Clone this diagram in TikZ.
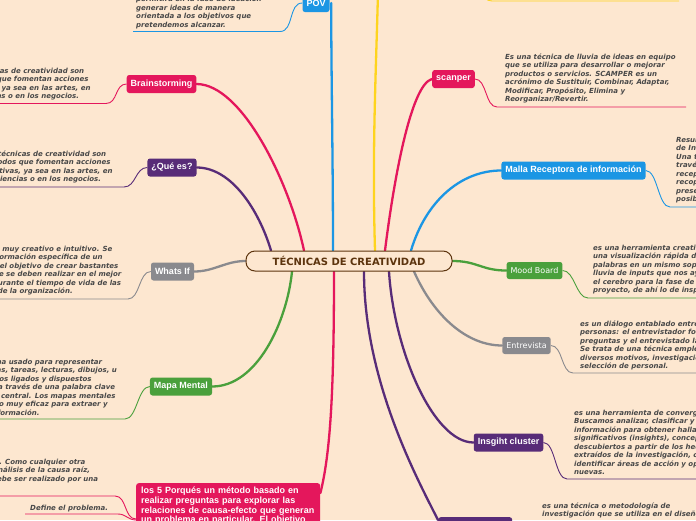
\documentclass[tikz,border=0pt]{standalone}
\usepackage{fontspec}
\usetikzlibrary{backgrounds}

\newfontfamily\labelfont{Liberation Sans}
\newfontfamily\notefont{DejaVu Sans}[ItalicFont={DejaVu Sans Oblique},BoldFont={DejaVu Sans Bold},BoldItalicFont={DejaVu Sans Bold Oblique}]

\definecolor{bgpeach}{RGB}{253,231,208}
\definecolor{cpink}{RGB}{228,23,92}
\definecolor{cpurple}{RGB}{88,44,120}
\definecolor{cblue}{RGB}{27,150,228}
\definecolor{cgreen}{RGB}{74,160,60}
\definecolor{cgray}{RGB}{138,138,142}
\definecolor{cyellow}{RGB}{254,212,30}
\definecolor{cbrown}{RGB}{92,52,14}
\definecolor{notegray}{RGB}{72,72,72}

\tikzset{
  topic/.style={fill=#1, rounded corners=2.5pt, text=white,
    font=\labelfont\bfseries\fontsize{9}{10}\selectfont,
    inner xsep=4pt, inner ysep=0pt, minimum height=18pt},
  plaintopic/.style={topic=#1, font=\notefont\fontsize{8}{9}\selectfont, minimum height=17pt},
  note/.style={font=\notefont\bfseries\itshape\fontsize{7}{8.5}\selectfont,
    text=notegray, align=left, inner sep=0pt, anchor=base west},
  centre/.style={draw=cbrown, line width=1pt, fill=bgpeach, rounded corners=9pt,
    minimum width=206pt, minimum height=20pt, text=cbrown,
    font=\notefont\bfseries\fontsize{10}{12}\selectfont},
  branch/.style={draw=#1, line width=2.3pt, line cap=round},
  link/.style={draw=#1, line width=0.9pt},
}

\begin{document}
\begin{tikzpicture}[x=1pt, y=-1pt]
    \useasboundingbox (0,0) rectangle (696,520);

    % Central topic
    \node[centre] (tec) at (349,261) {TÉCNICAS DE CREATIVIDAD};

    % ==========================================
    % LEFT SIDE (notes are placed by their last baseline)
    % ==========================================

    % POV
    \node[topic=cblue] (pov) at (316,3) {POV};
    \node[note] (povnote) at (136,27)
        {permitirá en la fase de ideación\\generar ideas de manera\\orientada a los objetivos que\\pretendemos alcanzar.};
    \coordinate (povu) at (280,31.5);
    \coordinate (povend) at (133,31.5);
    \draw[link=cblue] (pov.west) .. controls +(-14,0) and +(14,0) .. (povu) -- (povend);

    % Brainstorming
    \node[topic=cpink] (brain) at (161.5,84) {Brainstorming};
    \node[note] (brainnote) at (-40,98.5)
        {Las técnicas de creatividad son\\métodos que fomentan acciones\\creativas, ya sea en las artes, en\\las ciencias o en los negocios.};
    \coordinate (brainu) at (106,103.5);
    \coordinate (brainend) at (-2,103.5);
    \draw[link=cpink] (brain.west) .. controls +(-12,0) and +(12,0) .. (brainu) -- (brainend);

    % Que es
    \node[topic=cpurple] (quees) at (172,167.5) {¿Qué es?};
    \node[note] (queesnote) at (-18,181.5)
        {Las técnicas de creatividad son\\métodos que fomentan acciones\\creativas, ya sea en las artes, en\\las ciencias o en los negocios.};
    \coordinate (queesu) at (124,187);
    \coordinate (queesend) at (-2,187);
    \draw[link=cpurple] (quees.west) .. controls +(-12,0) and +(12,0) .. (queesu) -- (queesend);

    % Whats If
    \node[topic=cgray] (whatsif) at (172.5,271.5) {Whats If};
    \node[note] (whatsifnote) at (-54,293.5)
        {Es un método muy creativo e intuitivo. Se\\basa en la información específica de un\\proyecto con el objetivo de crear bastantes\\preguntas que se deben realizar en el mejor\\momento y durante el tiempo de vida de las\\los procesos de la organización.};
    \coordinate (whatsifu) at (128,299);
    \coordinate (whatsifend) at (-2,299);
    \draw[link=cgray] (whatsif.west) .. controls +(-12,0) and +(12,0) .. (whatsifu) -- (whatsifend);

    % Mapa Mental
    \node[topic=cgreen] (mapa) at (181,386.5) {Mapa Mental};
    \node[note] (mapanote) at (-55,415)
        {Es un diagrama usado para representar\\palabras, ideas, tareas, lecturas, dibujos, u\\otros conceptos ligados y dispuestos\\radialmente, a través de una palabra clave\\o de una idea central. Los mapas mentales\\son un método muy eficaz para extraer y\\memorizar información.};
    \coordinate (mapau) at (125,419);
    \coordinate (mapaend) at (-2,419);
    \draw[link=cgreen] (mapa.west) .. controls +(-12,0) and +(12,0) .. (mapau) -- (mapaend);

    % Los 5 Porques
    \node[topic=cpink, anchor=north west, text width=174pt, align=left, inner xsep=5pt,
          inner ysep=4pt, font=\labelfont\bfseries\fontsize{9}{9.7}\selectfont] (porques) at (136,483)
        {los 5 Porqués un método basado en\\realizar preguntas para explorar las\\relaciones de causa-efecto que generan\\un problema en particular. El objetivo};
    \node[note] (porquesnote) at (-50,489.5)
        {los procesos. Como cualquier otra\\técnica de análisis de la causa raíz,\\el análisis debe ser realizado por una\\equipo.};
    \coordinate (porquesu) at (115,496);
    \coordinate (porquesend) at (-2,496);
    \draw[link=cpink] ([yshift=-36pt]porques.north west) .. controls +(-12,0) and +(12,0) .. (porquesu) -- (porquesend);
    \node[note] (define) at (30,510) {Define el problema.};
    \coordinate (defineu) at (118,514);
    \coordinate (defineend) at (25,514);
    \draw[link=cpink] ([yshift=-37pt]porques.north west) .. controls +(-8,0) and +(8,0) .. (defineu) -- (defineend);

    % ==========================================
    % RIGHT SIDE
    % ==========================================

    % Yellow topic above the frame
    \coordinate (yellowtop) at (378,-8);
    \coordinate (yellowbox) at (472,-16);
    \coordinate (yellowu) at (492,1);
    \coordinate (yellowend) at (679,1);
    \draw[link=cyellow] (yellowbox) .. controls +(12,0) and +(-12,0) .. (yellowu) -- (yellowend);

    % scanper
    \node[topic=cpink] (scanper) at (453.5,79) {scanper};
    \node[note] (scanpernote) at (505,101.5)
        {Es una técnica de lluvia de ideas en equipo\\que se utiliza para desarrollar o mejorar\\productos o servicios. SCAMPER es un\\acrónimo de Sustituir, Combinar, Adaptar,\\Modificar, Propósito, Elimina y\\Reorganizar/Revertir.};
    \coordinate (scanperu) at (497,107);
    \coordinate (scanperend) at (686,107);
    \draw[link=cpink] (scanper.east) .. controls +(12,0) and +(-12,0) .. (scanperu) -- (scanperend);

    % Malla Receptora
    \node[topic=cblue] (malla) at (573.5,170.5) {Malla Receptora de información};
    \node[note] (mallanote) at (676,201.5)
        {Resumen de la Malla Receptora\\de Información:\\Una técnica que se realiza a\\través de un mapa de\\recepción de ideas, para\\recopilar la información\\presentada y encontrar\\posibles soluciones.};
    \coordinate (mallau) at (670,207);
    \coordinate (mallaend) at (700,207);
    \draw[link=cblue] (malla.east) .. controls +(12,0) and +(-12,0) .. (mallau) -- (mallaend);

    % Mood Board
    \node[plaintopic=cgreen] (mood) at (534.5,270.5) {Mood Board};
    \node[note] (moodnote) at (593,292.5)
        {es una herramienta creativa que permite\\una visualización rápida de imágenes y\\palabras en un mismo soporte. Es una\\lluvia de inputs que nos ayuda a preparar\\el cerebro para la fase de ideación del\\proyecto, de ahí lo de inspiración.};
    \coordinate (moodu) at (588,298);
    \coordinate (moodend) at (700,298);
    \draw[link=cgreen] (mood.east) .. controls +(12,0) and +(-12,0) .. (moodu) -- (moodend);

    % Entrevista
    \node[plaintopic=cgray] (entrevista) at (526.5,345.5) {Entrevista};
    \node[note] (entrevistanote) at (580,368.5)
        {es un diálogo entablado entre dos\\personas: el entrevistador formula\\preguntas y el entrevistado las responde.\\Se trata de una técnica empleada para\\diversos motivos, investigación, medicina,\\selección de personal.};
    \coordinate (entrevistau) at (573,373);
    \coordinate (entrevistaend) at (700,373);
    \draw[link=cgray] (entrevista.east) .. controls +(12,0) and +(-12,0) .. (entrevistau) -- (entrevistaend);

    % Insgiht cluster
    \node[topic=cpurple] (insight) at (508.5,442.5) {Insgiht cluster};
    \node[note] (insightnote) at (574,474.5)
        {es una herramienta de convergencia.\\Buscamos analizar, clasificar y ordenar la\\información para obtener hallazgos\\significativos (insights), conceptos\\descubiertos a partir de los hechos\\extraídos de la investigación, con el fin de\\identificar áreas de acción y oportunidades\\nuevas.};
    \coordinate (insightu) at (567,479);
    \coordinate (insightend) at (700,479);
    \draw[link=cpurple] (insight.east) .. controls +(12,0) and +(-12,0) .. (insightu) -- (insightend);

    % Purple topic below the frame
    \node[topic=cpurple, anchor=north west, minimum width=74pt, minimum height=19pt] (bottom) at (438,517) {};
    \node[note] (bottomnote) at (542,516.5)
        {es una técnica o metodología de\\investigación que se utiliza en el diseño};

    % ==========================================
    % BRANCHES (behind the boxes)
    % ==========================================
    \begin{scope}[on background layer]
        \fill[bgpeach] (0,0) rectangle (696,520);
        \draw[branch=cblue] ([xshift=-16pt]tec.north) .. controls +(0,-90) and +(0,70) .. ([xshift=1.5pt]pov.east);
        \draw[branch=cyellow] ([xshift=26pt]tec.north) .. controls +(-3,-100) and +(-2,80) .. (yellowtop);
        \draw[branch=cpink] ([xshift=-45pt]tec.north) .. controls +(-15,-70) and +(45,0) .. (brain.east);
        \draw[branch=cpurple] ([xshift=-78pt]tec.north) .. controls +(-12,-40) and +(35,0) .. (quees.east);
        \draw[branch=cgray] (tec.west) .. controls +(-20,0) and +(20,0) .. (whatsif.east);
        \draw[branch=cgreen] ([xshift=-57pt]tec.south) .. controls +(-5,50) and +(45,0) .. (mapa.east);
        \draw[branch=cpink] ([xshift=-15pt]tec.south) .. controls +(0,120) and +(10,-40) .. ([yshift=-10pt]porques.north east);
        \draw[branch=cpurple] ([xshift=15pt]tec.south) .. controls +(0,110) and +(-20,-40) .. ([yshift=-3pt]bottom.north west);
        \draw[branch=cpurple] ([xshift=40pt]tec.south) .. controls +(5,80) and +(-40,0) .. (insight.west);
        \draw[branch=cgray] ([xshift=65pt]tec.south) .. controls +(20,45) and +(-35,0) .. (entrevista.west);
        \draw[branch=cgreen] (tec.east) .. controls +(25,0) and +(-25,0) .. (mood.west);
        \draw[branch=cblue] ([xshift=62pt]tec.north) .. controls +(15,-50) and +(-40,0) .. (malla.west);
        \draw[branch=cpink] ([xshift=36pt]tec.north) .. controls +(10,-80) and +(-20,5) .. (scanper.west);
    \end{scope}
\end{tikzpicture}
\end{document}
